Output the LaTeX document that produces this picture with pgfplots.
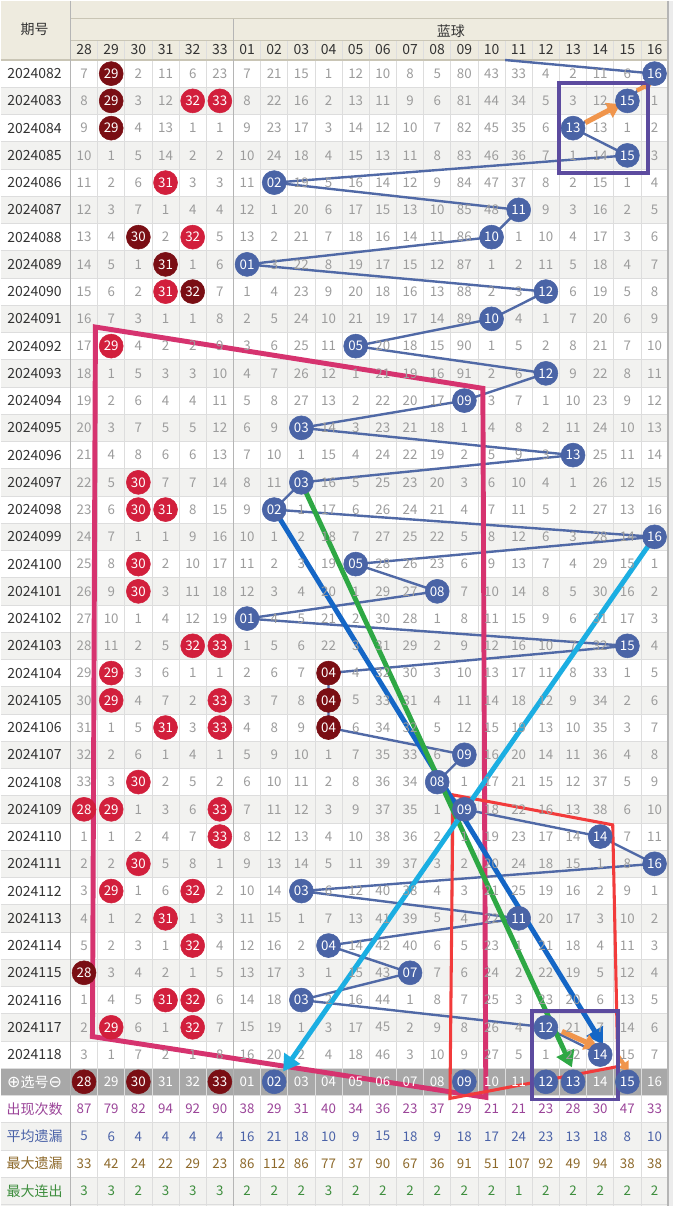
\documentclass[border=0pt]{standalone}
\usepackage{fontspec}
\setmainfont{Noto Sans CJK SC}
\newfontfamily\symfont{DejaVu Sans}
\usepackage{pgfplots}
\usepackage{pgfplotstable}
\pgfplotsset{compat=1.18}
\usetikzlibrary{arrows.meta}

\definecolor{hdr}{HTML}{EEEBDF}
\definecolor{hdrline}{HTML}{C9C5B5}
\definecolor{rowg}{HTML}{F2F2F0}
\definecolor{gridc}{HTML}{DDDDDD}
\definecolor{divc}{HTML}{B5B5B5}
\definecolor{numg}{HTML}{9C9C9C}
\definecolor{selg}{HTML}{A8A8A8}
\definecolor{ballred}{HTML}{D21F3C}
\definecolor{balldark}{HTML}{7A0E14}
\definecolor{ballblue}{HTML}{4A64A6}
\definecolor{trend}{HTML}{5069A6}
\definecolor{pinkc}{HTML}{D6336F}
\definecolor{redc}{HTML}{F23B3B}
\definecolor{greenc}{HTML}{2EA844}
\definecolor{bluec}{HTML}{1466C6}
\definecolor{cyanc}{HTML}{1BAEE2}
\definecolor{orangec}{HTML}{F0954C}
\definecolor{purplec}{HTML}{5C4B9F}
\definecolor{statA}{HTML}{9B4599}
\definecolor{statB}{HTML}{4A62A8}
\definecolor{statC}{HTML}{8E6A2C}
\definecolor{statD}{HTML}{3E8E3E}
\definecolor{txt}{HTML}{333333}

% omission values; columns n0..n5 = red 28..33, n6..n21 = blue 01..16 (0 = drawn ball)
\pgfplotstableread{
r per n0 n1 n2 n3 n4 n5 n6 n7 n8 n9 n10 n11 n12 n13 n14 n15 n16 n17 n18 n19 n20 n21
0 2024082 7 0 2 11 6 23 7 21 15 1 12 10 8 5 80 43 33 4 2 11 6 0
1 2024083 8 0 3 12 0 0 8 22 16 2 13 11 9 6 81 44 34 5 3 12 0 1
2 2024084 9 0 4 13 1 1 9 23 17 3 14 12 10 7 82 45 35 6 0 13 1 2
3 2024085 10 1 5 14 2 2 10 24 18 4 15 13 11 8 83 46 36 7 1 14 0 3
4 2024086 11 2 6 0 3 3 11 0 19 5 16 14 12 9 84 47 37 8 2 15 1 4
5 2024087 12 3 7 1 4 4 12 1 20 6 17 15 13 10 85 48 0 9 3 16 2 5
6 2024088 13 4 0 2 0 5 13 2 21 7 18 16 14 11 86 0 1 10 4 17 3 6
7 2024089 14 5 1 0 1 6 0 3 22 8 19 17 15 12 87 1 2 11 5 18 4 7
8 2024090 15 6 2 0 0 7 1 4 23 9 20 18 16 13 88 2 3 0 6 19 5 8
9 2024091 16 7 3 1 1 8 2 5 24 10 21 19 17 14 89 0 4 1 7 20 6 9
10 2024092 17 0 4 2 2 9 3 6 25 11 0 20 18 15 90 1 5 2 8 21 7 10
11 2024093 18 1 5 3 3 10 4 7 26 12 1 21 19 16 91 2 6 0 9 22 8 11
12 2024094 19 2 6 4 4 11 5 8 27 13 2 22 20 17 0 3 7 1 10 23 9 12
13 2024095 20 3 7 5 5 12 6 9 0 14 3 23 21 18 1 4 8 2 11 24 10 13
14 2024096 21 4 8 6 6 13 7 10 1 15 4 24 22 19 2 5 9 3 0 25 11 14
15 2024097 22 5 0 7 7 14 8 11 0 16 5 25 23 20 3 6 10 4 1 26 12 15
16 2024098 23 6 0 0 8 15 9 0 1 17 6 26 24 21 4 7 11 5 2 27 13 16
17 2024099 24 7 1 1 9 16 10 1 2 18 7 27 25 22 5 8 12 6 3 28 14 0
18 2024100 25 8 0 2 10 17 11 2 3 19 0 28 26 23 6 9 13 7 4 29 15 1
19 2024101 26 9 0 3 11 18 12 3 4 20 1 29 27 0 7 10 14 8 5 30 16 2
20 2024102 27 10 1 4 12 19 0 4 5 21 2 30 28 1 8 11 15 9 6 31 17 3
21 2024103 28 11 2 5 0 0 1 5 6 22 3 31 29 2 9 12 16 10 7 32 0 4
22 2024104 29 0 3 6 1 1 2 6 7 0 4 32 30 3 10 13 17 11 8 33 1 5
23 2024105 30 0 4 7 2 0 3 7 8 0 5 33 31 4 11 14 18 12 9 34 2 6
24 2024106 31 1 5 0 3 0 4 8 9 0 6 34 32 5 12 15 19 13 10 35 3 7
25 2024107 32 2 6 1 4 1 5 9 10 1 7 35 33 6 0 16 20 14 11 36 4 8
26 2024108 33 3 0 2 5 2 6 10 11 2 8 36 34 0 1 17 21 15 12 37 5 9
27 2024109 0 0 1 3 6 0 7 11 12 3 9 37 35 1 0 18 22 16 13 38 6 10
28 2024110 1 1 2 4 7 0 8 12 13 4 10 38 36 2 1 19 23 17 14 0 7 11
29 2024111 2 2 0 5 8 1 9 13 14 5 11 39 37 3 2 20 24 18 15 1 8 0
30 2024112 3 0 1 6 0 2 10 14 0 6 12 40 38 4 3 21 25 19 16 2 9 1
31 2024113 4 1 2 0 1 3 11 15 1 7 13 41 39 5 4 22 0 20 17 3 10 2
32 2024114 5 2 3 1 0 4 12 16 2 0 14 42 40 6 5 23 1 21 18 4 11 3
33 2024115 0 3 4 2 1 5 13 17 3 1 15 43 0 7 6 24 2 22 19 5 12 4
34 2024116 1 4 5 0 0 6 14 18 0 2 16 44 1 8 7 25 3 23 20 6 13 5
35 2024117 2 0 6 1 0 7 15 19 1 3 17 45 2 9 8 26 4 0 21 7 14 6
36 2024118 3 1 7 2 1 8 16 20 2 4 18 46 3 10 9 27 5 1 22 0 15 7
}\omis

% column labels and bottom statistics
\pgfplotstableread{
k lab occ avg maxo maxr
0 28 87 5 33 3
1 29 79 6 42 3
2 30 82 4 24 2
3 31 94 4 22 3
4 32 92 4 29 3
5 33 90 4 23 3
6 01 38 16 86 2
7 02 29 21 112 2
8 03 31 18 86 2
9 04 40 10 77 3
10 05 34 9 37 2
11 06 36 15 90 2
12 07 23 18 67 2
13 08 37 9 36 2
14 09 29 18 91 2
15 10 21 17 51 2
16 11 21 24 107 1
17 12 23 23 92 2
18 13 28 13 49 2
19 14 30 18 94 2
20 15 47 8 38 2
21 16 33 10 38 2
}\stats

\pgfplotstableread{
k r lab
1 0 29
1 1 29
1 2 29
2 6 30
3 7 31
4 8 32
9 22 04
9 23 04
9 24 04
0 33 28
0 37 28
2 37 30
5 37 33
}\darkhits

\pgfplotstableread{
k r lab
4 1 32
5 1 33
3 4 31
4 6 32
3 8 31
1 10 29
2 15 30
2 16 30
3 16 31
2 18 30
2 19 30
4 21 32
5 21 33
1 22 29
1 23 29
5 23 33
3 24 31
5 24 33
2 26 30
0 27 28
1 27 29
5 27 33
5 28 33
2 29 30
1 30 29
4 30 32
3 31 31
4 32 32
3 34 31
4 34 32
1 35 29
4 35 32
}\redhits

\pgfplotstableread{
k r lab
21 0 16
20 1 15
18 2 13
20 3 15
7 4 02
16 5 11
15 6 10
6 7 01
17 8 12
15 9 10
10 10 05
17 11 12
14 12 09
8 13 03
18 14 13
8 15 03
7 16 02
21 17 16
10 18 05
13 19 08
6 20 01
20 21 15
14 25 09
13 26 08
14 27 09
19 28 14
21 29 16
8 30 03
16 31 11
9 32 04
12 33 07
8 34 03
17 35 12
19 36 14
7 37 02
14 37 09
17 37 12
18 37 13
20 37 15
}\bluehits

\begin{document}
\begin{tikzpicture}
\begin{axis}[
  width=504.75pt, height=905.25pt, scale only axis,
  xmin=-3.0735, xmax=21.669, ymin=-2.676, ymax=41.569,
  y dir=reverse, hide axis, clip=false,
  every node near coord/.append style={anchor=center, inner sep=0pt, font=\fontsize{10}{12}\selectfont},
]
% ---------- table layout ----------
\fill[white] (-3.0735,-2.676) rectangle (21.669,41.569);
\fill[hdr] (-3.0735,-2.676) rectangle (21.5,-0.5);
\pgfplotsinvokeforeach{1,3,...,35}{\fill[rowg] (-3.0735,#1-0.5) rectangle (21.5,#1+0.5);}
\fill[selg] (-3.0735,36.5) rectangle (21.5,37.5);
\fill[rowg] (-3.0735,38.5) rectangle (21.5,39.5);
\fill[rowg] (-3.0735,40.5) rectangle (21.5,41.569);
\fill[gray!15] (21.5,-2.676) rectangle (21.669,41.569);
\pgfplotsinvokeforeach{0.5,1.5,...,41.5}{\draw[gridc, line width=0.6pt] (-3.0735,#1) -- (21.5,#1);}
\pgfplotsinvokeforeach{0.5,1.5,...,20.5}{\draw[gridc, line width=0.6pt] (#1,-1.21) -- (#1,41.569);}
\draw[hdrline, line width=0.8pt] (-0.5,-2.016) -- (21.5,-2.016);
\draw[hdrline, line width=0.8pt] (-0.5,-1.21) -- (21.5,-1.21);
\draw[hdrline, line width=0.8pt] (-3.0735,-0.5) -- (21.5,-0.5);
\draw[divc, line width=1.1pt] (-0.5,-2.676) -- (-0.5,41.569);
\draw[divc, line width=1.1pt] (5.5,-2.016) -- (5.5,41.569);
\draw[divc, line width=1.1pt] (21.5,-2.676) -- (21.5,41.569);
% header texts
\node[txt, font=\fontsize{10.5}{12}\selectfont] at (-1.82,-1.62) {期号};
\node[txt, font=\fontsize{10.5}{12}\selectfont] at (13.5,-1.56) {蓝球};
% left labels of bottom rows
\node[white, font=\fontsize{10.5}{12}\selectfont] at (-1.82,37) {{\symfont\fontsize{12}{12}\selectfont ⊕}选号{\symfont\fontsize{12}{12}\selectfont ⊖}};
\node[statA, font=\fontsize{10.5}{12}\selectfont] at (-1.82,38) {出现次数};
\node[statB, font=\fontsize{10.5}{12}\selectfont] at (-1.82,39) {平均遗漏};
\node[statC, font=\fontsize{10.5}{12}\selectfont] at (-1.82,40) {最大遗漏};
\node[statD, font=\fontsize{10.5}{12}\selectfont] at (-1.82,41) {最大连出};

% ---------- column headers ----------
\addplot[draw=none, mark=none, nodes near coords, point meta=explicit symbolic,
  every node near coord/.append style={text=txt, font=\fontsize{10.5}{12}\selectfont}]
  table[x=k, y expr=-0.88, meta=lab] {\stats};
% periods
\addplot[draw=none, mark=none, nodes near coords, point meta=explicit symbolic,
  every node near coord/.append style={text=txt, font=\fontsize{10.5}{12}\selectfont}]
  table[x expr=-1.82, y=r, meta=per] {\omis};
% omission numbers
\pgfplotsinvokeforeach{0,...,21}{
  \addplot[draw=none, mark=none, nodes near coords, point meta=explicit symbolic,
    every node near coord/.append style={text=numg}]
    table[x expr=#1, y=r, meta=n#1] {\omis};
}
% selection row labels
\addplot[draw=none, mark=none, nodes near coords, point meta=explicit symbolic,
  every node near coord/.append style={text=white}]
  table[x=k, y expr=37, meta=lab] {\stats};
% statistics rows
\addplot[draw=none, mark=none, nodes near coords, point meta=explicit symbolic,
  every node near coord/.append style={text=statA}] table[x=k, y expr=38, meta=occ] {\stats};
\addplot[draw=none, mark=none, nodes near coords, point meta=explicit symbolic,
  every node near coord/.append style={text=statB}] table[x=k, y expr=39, meta=avg] {\stats};
\addplot[draw=none, mark=none, nodes near coords, point meta=explicit symbolic,
  every node near coord/.append style={text=statC}] table[x=k, y expr=40, meta=maxo] {\stats};
\addplot[draw=none, mark=none, nodes near coords, point meta=explicit symbolic,
  every node near coord/.append style={text=statD}] table[x=k, y expr=41, meta=maxr] {\stats};

% ---------- blue ball trend ----------
\addplot[trend, line width=1.8pt, mark=none] coordinates {
(15.5,-0.5) (21,0) (20,1) (18,2) (20,3) (7,4) (16,5) (15,6) (6,7) (17,8) (15,9)
(10,10) (17,11) (14,12) (8,13) (18,14) (8,15) (7,16) (21,17) (10,18) (13,19)
(6,20) (20,21) (9,22) (9,23) (9,24) (14,25) (13,26) (14,27) (19,28) (21,29)
(8,30) (16,31) (9,32) (12,33) (8,34) (17,35) (19,36)};

% ---------- balls ----------
\addplot[only marks, mark=*, mark size=9pt, color=balldark, nodes near coords,
  point meta=explicit symbolic, every node near coord/.append style={text=white}]
  table[x=k, y=r, meta=lab] {\darkhits};
\addplot[only marks, mark=*, mark size=9pt, color=ballred, nodes near coords,
  point meta=explicit symbolic, every node near coord/.append style={text=white}]
  table[x=k, y=r, meta=lab] {\redhits};
\addplot[only marks, mark=*, mark size=9pt, color=ballblue, nodes near coords,
  point meta=explicit symbolic, every node near coord/.append style={text=white}]
  table[x=k, y=r, meta=lab] {\bluehits};

% ---------- annotations ----------
\addplot[pinkc, line width=3.7pt, mark=none, line join=miter] coordinates {
(0.42,9.3) (14.68,11.55) (14.79,37.57) (0.31,35.34) (0.42,9.3) (14.68,11.55)};
\addplot[redc, line width=2.3pt, mark=none, line join=miter] coordinates {
(13.58,26.47) (19.46,27.57) (19.65,36.44) (13.47,37.61) (13.58,26.47) (19.46,27.57)};
\addplot[bluec, line width=3.7pt, mark=none, -{Triangle[length=12pt, width=14pt]}] coordinates {(7,16) (19.1,35.63)};
\addplot[greenc, line width=3.7pt, mark=none, -{Triangle[length=12pt, width=14pt]}] coordinates {(8,15) (17.96,36.47)};
\addplot[cyanc, line width=3.7pt, mark=none, -{Triangle[length=12pt, width=14pt]}] coordinates {(21,17) (7.33,36.62)};
\addplot[orangec, line width=3.9pt, mark=none, -{Triangle[length=10pt, width=12pt]}] coordinates {(18.45,1.8) (19.75,1.12)};
\addplot[orangec, line width=3.2pt, mark=none, -{Triangle[length=7pt, width=9pt]}] coordinates {(20.35,0.62) (20.93,0.33)};
\addplot[orangec, line width=3.9pt, mark=none, -{Triangle[length=10pt, width=12pt]}] coordinates {(17.59,35.15) (18.91,35.74)};
\addplot[orangec, line width=3.2pt, mark=none, -{Triangle[length=7pt, width=9pt]}] coordinates {(19.65,36.05) (20.05,36.62)};
\addplot[purplec, line width=3pt, mark=none, line join=miter] coordinates {
(17.48,0.33) (20.75,0.33) (20.75,3.63) (17.48,3.63) (17.48,0.33) (20.75,0.33)};
\addplot[purplec, line width=3pt, mark=none, line join=miter] coordinates {
(16.49,34.42) (19.65,34.42) (19.65,37.65) (16.49,37.65) (16.49,34.42) (19.65,34.42)};
\end{axis}
\end{tikzpicture}
\end{document}
